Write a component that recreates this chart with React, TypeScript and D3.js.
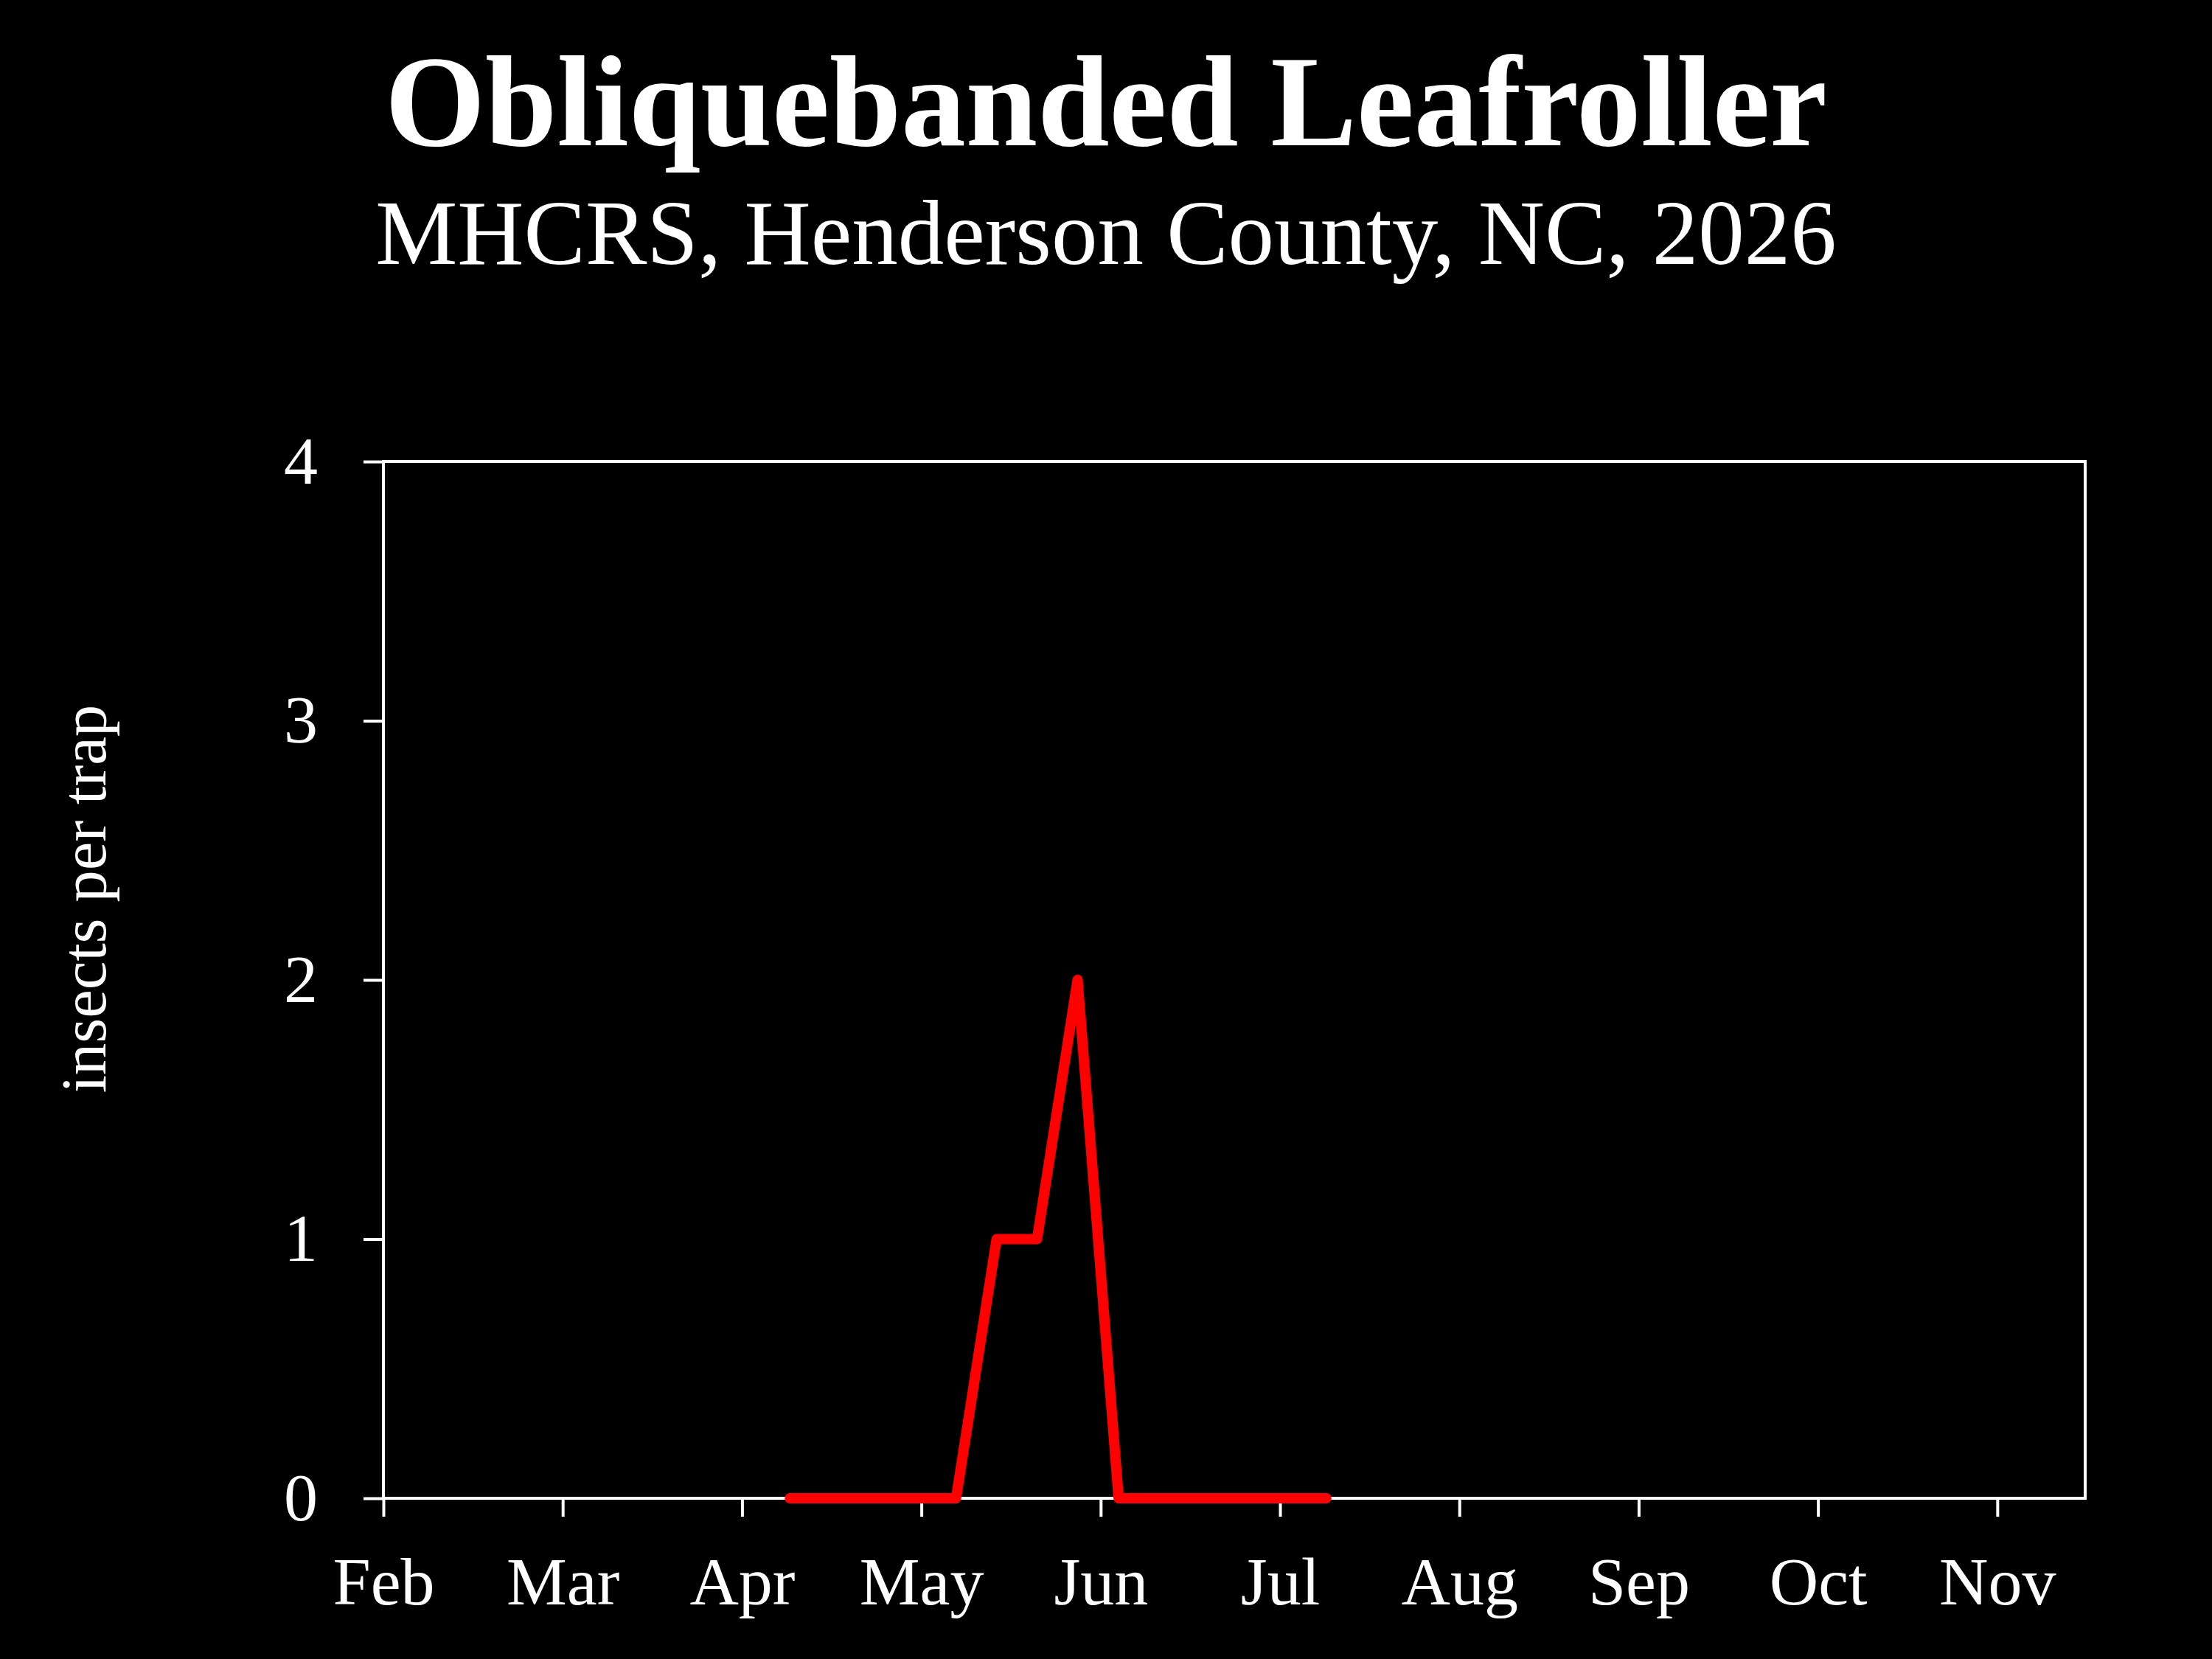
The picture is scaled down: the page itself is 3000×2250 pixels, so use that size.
import React, { useEffect, useRef } from 'react';
import * as d3 from 'd3';

// weekly trap checks, MHCRS 2026
const sampleDates = [
  '2026-04-09', '2026-04-16', '2026-04-23', '2026-04-30',
  '2026-05-07', '2026-05-14', '2026-05-21', '2026-05-28',
  '2026-06-04', '2026-06-11', '2026-06-18', '2026-06-25',
  '2026-07-02', '2026-07-09',
];
const trapCounts = [0, 0, 0, 0, 0, 1, 1, 2, 0, 0, 0, 0, 0, 0];

const monthLabels = ['Feb', 'Mar', 'Apr', 'May', 'Jun', 'Jul', 'Aug', 'Sep', 'Oct', 'Nov'];
const monthValues = [2, 3, 4, 5, 6, 7, 8, 9, 10, 11];
const yTicks = [0, 1, 2, 3, 4];

const FONT = '"Liberation Serif", "Times New Roman", serif';

// month number + fraction of the month elapsed
const toMonth = (s: string) => {
  const d = d3.timeParse('%Y-%m-%d')(s) as Date;
  const days = new Date(d.getFullYear(), d.getMonth() + 1, 0).getDate();
  return d.getMonth() + 1 + (d.getDate() - 1) / days;
};

const App: React.FC = () => {
  const svgRef = useRef<SVGSVGElement>(null);

  useEffect(() => {
    document.body.style.margin = '0';
    if (!svgRef.current) return;

    const width = 3000;
    const height = 2250;
    const left = 520, right = 2828, top = 626, bottom = 2032;

    const svg = d3.select(svgRef.current);
    svg.selectAll('*').remove();

    svg.append('rect').attr('width', width).attr('height', height).attr('fill', '#000');

    const x = d3.scaleLinear().domain([2, 11.49]).range([left, right]);
    const y = d3.scaleLinear().domain([0, 4]).range([bottom, top]);

    // titles
    svg.append('text')
      .attr('x', 1500).attr('y', 197)
      .attr('text-anchor', 'middle')
      .attr('fill', '#fff')
      .style('font-family', FONT)
      .style('font-weight', 'bold')
      .style('font-size', '175px')
      .text('Obliquebanded Leafroller');

    svg.append('text')
      .attr('x', 1500).attr('y', 358)
      .attr('text-anchor', 'middle')
      .attr('fill', '#fff')
      .style('font-family', FONT)
      .style('font-size', '125px')
      .text('MHCRS, Henderson County, NC, 2026');

    // y axis title
    svg.append('text')
      .attr('transform', `translate(143,1219) rotate(-90)`)
      .attr('text-anchor', 'middle')
      .attr('fill', '#fff')
      .style('font-family', FONT)
      .style('font-size', '87px')
      .text('insects per trap');

    // plot frame
    svg.append('rect')
      .attr('x', left).attr('y', top)
      .attr('width', right - left).attr('height', bottom - top)
      .attr('fill', 'none')
      .attr('stroke', '#fff')
      .attr('stroke-width', 4);

    const yAxis = svg.append('g')
      .attr('transform', `translate(${left},0)`)
      .call(d3.axisLeft(y).tickValues(yTicks).tickSize(27).tickPadding(62).tickFormat(d3.format('d')));

    const xAxis = svg.append('g')
      .attr('transform', `translate(0,${bottom})`)
      .call(d3.axisBottom(x).tickValues(monthValues).tickSize(25).tickPadding(54)
        .tickFormat((d) => monthLabels[monthValues.indexOf(d as number)]));

    [yAxis, xAxis].forEach((g) => {
      g.select('.domain').remove();
      g.selectAll('line').attr('stroke', '#fff').attr('stroke-width', 4);
      g.selectAll('text')
        .attr('fill', '#fff')
        .style('font-family', FONT)
        .style('font-size', '92px');
    });

    // data line
    const points = sampleDates.map((d, i) => ({ m: toMonth(d), v: trapCounts[i] }));
    const line = d3.line<{ m: number; v: number }>()
      .x((d) => x(d.m))
      .y((d) => y(d.v));

    svg.append('path')
      .datum(points)
      .attr('d', line)
      .attr('fill', 'none')
      .attr('stroke', '#ff0000')
      .attr('stroke-width', 14)
      .attr('stroke-linejoin', 'round')
      .attr('stroke-linecap', 'round');
  }, []);

  return <svg ref={svgRef} width={3000} height={2250} style={{ display: 'block' }} />;
};

export default App;
